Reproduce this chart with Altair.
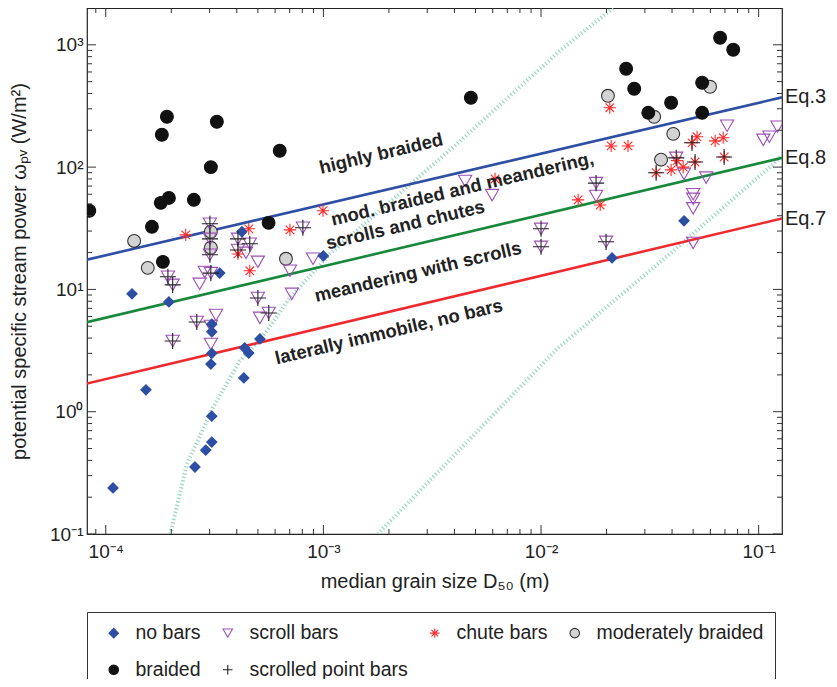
import json
import altair as alt
import pandas as pd

# ---------------- axis ranges and ticks ----------------
X_DOMAIN = [8.2e-5, 0.128]
Y_DOMAIN = [0.1, 2000]
x_major = [1e-4, 1e-3, 1e-2, 1e-1]
x_minor = [9e-5] + [m * 10.0 ** k for k in (-4, -3, -2) for m in range(2, 10)]
y_major = [0.1, 1, 10, 100, 1000]
y_minor = [m * 10.0 ** k for k in (-1, 0, 1, 2) for m in range(2, 10)]
x_tick_labels = ["10⁻⁴", "10⁻³", "10⁻²", "10⁻¹"]
y_tick_labels = ["10⁻¹", "10⁰", "10¹", "10²", "10³"]

# ---------------- observations (D50 [m], omega_pv [W/m2]) ----------------
nobars_D = [1.32e-4, 1.95e-4, 3.34e-4, 4.22e-4, 3.07e-4, 3.07e-4, 3.07e-4, 3.04e-4, 5.11e-4, 4.35e-4,
            4.54e-4, 4.31e-4, 1.53e-4, 3.07e-4, 3.07e-4, 2.88e-4, 2.57e-4, 1.08e-4, 1.00e-3, 0.0212, 0.0454]
nobars_w = [9.2, 7.9, 13.6, 29.6, 5.2, 4.5, 3.0, 2.45, 3.94, 3.32,
            3.02, 1.89, 1.51, 0.92, 0.565, 0.486, 0.353, 0.238, 18.8, 18.1, 36.4]

scroll_D = [3.01e-4, 3.01e-4, 3.01e-4, 3.04e-4, 2.85e-4, 2.70e-4, 1.93e-4, 2.03e-4, 4.05e-4, 4.05e-4,
            4.59e-4, 4.41e-4, 5.00e-4, 8.05e-4, 7.02e-4, 8.96e-4, 5.00e-4, 7.16e-4, 5.61e-4, 5.11e-4,
            3.21e-4, 2.62e-4, 3.04e-4, 2.03e-4, 3.04e-4, 4.48e-3, 5.96e-3, 0.0100, 0.0100, 0.0179,
            0.0179, 0.0199, 0.0418, 0.0454, 0.0574, 0.0500, 0.0500, 0.0500, 0.0500, 0.0716,
            0.105, 0.112, 0.122]
scroll_w = [34.4, 25.9, 19.2, 13.6, 13.9, 11.1, 12.7, 10.9, 25.9, 21.0,
            23.6, 19.9, 16.8, 31.9, 14.2, 17.8, 8.51, 9.19, 6.42, 5.85,
            6.18, 5.42, 5.03, 3.79, 3.58, 77, 59, 31.3, 22.3, 74,
            58, 24.5, 119, 88, 82, 60, 55, 46, 24.0, 218,
            167, 177, 214]

chute_D = [2.33e-4, 4.54e-4, 4.05e-4, 4.59e-4, 7.02e-4, 9.96e-4, 6.15e-3, 0.0207, 0.0210, 0.0251,
           0.0148, 0.0187, 0.0494, 0.0521, 0.0631, 0.0687, 0.0694, 0.0510, 0.0396, 0.0450,
           0.0338, 0.0422]
chute_w = [27.9, 31.3, 19.5, 14.2, 30.7, 44, 80, 306, 149, 149,
           54, 49, 158, 177, 164, 174, 121, 110, 95, 100,
           90, 113]

modbraid_D = [1.35e-4, 1.56e-4, 3.04e-4, 3.04e-4, 6.73e-4, 0.0203, 0.0598, 0.0331, 0.0405, 0.0356]
modbraid_w = [24.9, 15.0, 29.6, 21.9, 17.8, 383, 454, 258, 187, 115]

braided_D = [8.4e-5, 1.91e-4, 1.81e-4, 3.24e-4, 3.04e-4, 6.3e-4, 1.79e-4, 1.95e-4, 2.54e-4, 1.63e-4,
             5.6e-4, 1.83e-4, 4.76e-3, 0.0665, 0.0764, 0.0246, 0.0268, 0.0550, 0.0396, 0.0311, 0.0550]
braided_w = [44, 258, 184, 235, 100, 136, 51, 56, 54, 32.5,
             35, 16.8, 369, 1143, 912, 637, 437, 490, 336, 278, 278]

spb_D = [3.01e-4, 3.01e-4, 3.01e-4, 3.04e-4, 1.93e-4, 2.03e-4, 4.05e-4, 4.05e-4, 4.59e-4, 8.05e-4,
         5.00e-4, 5.61e-4, 2.62e-4, 2.03e-4, 0.0100, 0.0100, 0.0179, 0.0199, 0.0418, 0.0494,
         0.0694, 0.0338, 0.0510]
spb_w = [34.4, 25.9, 19.2, 13.6, 12.7, 10.9, 25.9, 21.0, 23.6, 31.9,
         8.51, 6.42, 5.42, 3.79, 31.3, 22.3, 74, 24.5, 119, 158,
         121, 90, 110]

# ---------------- regime boundaries ----------------
eq_names = ["Eq.3", "Eq.8", "Eq.7"]
eq_D = [8.2e-5, 0.128]
eq3_w = [17.5, 372]
eq8_w = [5.4, 119]
eq7_w = [1.7, 38]
eq_colors = ["#2f4fa4", "#17883c", "#ee2a2e"]

# dotted threshold curves
thrA_D = [1.98e-4, 2.36e-4, 3.10e-4, 4.13e-4, 5.21e-4, 7.01e-4, 1.07e-3, 4.11e-3, 0.0122, 0.0214]
thrA_w = [0.1, 0.373, 1.07, 2.60, 4.01, 8.51, 19.5, 155, 894, 2000]
thrB_D = [1.78e-3, 0.01197, 0.0405, 0.1167, 0.128]
thrB_w = [0.1, 3.32, 20.6, 106, 125]

# regime labels
reg_text = ["highly braided", "mod. braided and meandering,", "scrolls and chutes",
            "meandering with scrolls", "laterally immobile, no bars"]
reg_D = [1.84e-3, 4.35e-3, 2.38e-3, 2.72e-3, 2.00e-3]
reg_w = [129, 66.4, 33.7, 13.9, 4.5]

# ---------------- styling ----------------
W, H = 695, 526
FONT = "Liberation Sans"
categories = ["no bars", "scroll bars", "chute bars", "moderately braided", "braided", "scrolled point bars"]
ASTER = "M0,-1L0,1M-1,0L1,0M-0.7,-0.7L0.7,0.7M-0.7,0.7L0.7,-0.7"
PLUS = "M-1,0L1,0M0,-1L0,1"
shapes = ["diamond", "triangle-down", ASTER, "circle", "circle", PLUS]
fills = ["#2c4ea3", "transparent", "transparent", "#d3d3d3", "#111111", "transparent"]
strokes = ["#2c4ea3", "#9c4fb6", "#ff2a2a", "#333333", "#111111", "#222222"]
marker_px = {"no bars": 105, "scroll bars": 175, "chute bars": 150,
             "moderately braided": 165, "braided": 165, "scrolled point bars": 260}

series = {
    "no bars": (nobars_D, nobars_w),
    "scroll bars": (scroll_D, scroll_w),
    "chute bars": (chute_D, chute_w),
    "moderately braided": (modbraid_D, modbraid_w),
    "braided": (braided_D, braided_w),
    "scrolled point bars": (spb_D, spb_w),
}
draw_order = ["moderately braided", "braided", "scroll bars", "chute bars", "no bars", "scrolled point bars"]
rows = []
for cat in draw_order:
    d, w = series[cat]
    for a, b in zip(d, w):
        rows.append({"D": a, "w": b, "type": cat, "sz": marker_px[cat]})
pts = pd.DataFrame(rows)

xscale = alt.Scale(type="log", domain=X_DOMAIN, nice=False)
yscale = alt.Scale(type="log", domain=Y_DOMAIN, nice=False)

x_expr = json.dumps(x_tick_labels, ensure_ascii=False) + "[round(log(datum.value)/LN10)+4]"
y_expr = json.dumps(y_tick_labels, ensure_ascii=False) + "[round(log(datum.value)/LN10)+1]"

xaxis = alt.Axis(values=x_major, labelExpr=x_expr, title="median grain size D₅₀ (m)",
                 labelFontSize=19, titleFontSize=20, labelPadding=8, titlePadding=10,
                 titleFontWeight="normal")
yaxis = alt.Axis(values=y_major, labelExpr=y_expr, title="potential specific stream power ωₚᵥ (W/m²)",
                 labelFontSize=19, titleFontSize=20, labelPadding=4, titlePadding=20,
                 titleFontWeight="normal")

X = alt.X("D:Q", scale=xscale, axis=xaxis)
Y = alt.Y("w:Q", scale=yscale, axis=yaxis)

leg = alt.Legend(orient="bottom", direction="horizontal", columns=4, offset=21,
                 labelFontSize=19.5, labelFont=FONT, labelColor="#222", labelLimit=400,
                 symbolSize=90, symbolStrokeWidth=1.1, strokeColor="#333", padding=11,
                 rowPadding=16, columnPadding=11, labelOffset=12, symbolOffset=6)

points = alt.Chart(pts).mark_point(opacity=1, strokeWidth=1.1, clip=True).encode(
    x=X, y=Y,
    shape=alt.Shape("type:N", scale=alt.Scale(domain=categories, range=shapes), legend=leg, title=None),
    fill=alt.Fill("type:N", scale=alt.Scale(domain=categories, range=fills), legend=leg, title=None),
    stroke=alt.Stroke("type:N", scale=alt.Scale(domain=categories, range=strokes), legend=leg, title=None),
    size=alt.Size("sz:Q", scale=None),
)

layers = []
# threshold curves
for dd, ww in [(thrA_D, thrA_w), (thrB_D, thrB_w)]:
    layers.append(alt.Chart(pd.DataFrame({"D": dd, "w": ww})).mark_line(
        color="#9ad5c6", strokeWidth=4, strokeDash=[1.2, 2.4], clip=True).encode(x=X, y=Y))
# regime lines
for ww, col in zip([eq3_w, eq8_w, eq7_w], eq_colors):
    layers.append(alt.Chart(pd.DataFrame({"D": eq_D, "w": ww})).mark_line(
        color=col, strokeWidth=2.6, clip=True).encode(x=X, y=Y))
layers.append(points)
# regime labels
layers.append(alt.Chart(pd.DataFrame({"D": reg_D, "w": reg_w, "t": reg_text})).mark_text(
    font=FONT, fontSize=18.5, fontWeight="bold", color="#222", angle=346.7,
    align="center", baseline="middle").encode(x=X, y=Y, text="t:N"))
# Eq labels at right ends of lines
eq_df = pd.DataFrame({"w": [eq3_w[-1], eq8_w[-1], eq7_w[-1]], "t": eq_names})
layers.append(alt.Chart(eq_df).mark_text(font=FONT, fontSize=20, color="#222", align="left",
                                         baseline="middle", dx=3).encode(
    x=alt.value(W), y=Y, text="t:N"))

# inward ticks on all four sides
TC = "#333"
def xt(vals, y0, y1):
    return alt.Chart(pd.DataFrame({"D": vals})).mark_rule(color=TC, strokeWidth=1).encode(
        x=X, y=alt.value(y0), y2=alt.value(y1))
def yt(vals, x0, x1):
    return alt.Chart(pd.DataFrame({"w": vals})).mark_rule(color=TC, strokeWidth=1).encode(
        y=Y, x=alt.value(x0), x2=alt.value(x1))
layers += [xt(x_major, H, H - 9), xt(x_minor, H, H - 5), xt(x_major, 0, 9), xt(x_minor, 0, 5),
           yt(y_major, 0, 9), yt(y_minor, 0, 5), yt(y_major, W, W - 9), yt(y_minor, W, W - 5)]

chart = alt.layer(*layers).properties(
    width=W, height=H,
    padding={"left": 79, "top": 0, "right": 47, "bottom": 145},
    autosize=alt.AutoSizeParams(type="none"),
).configure_view(stroke="#222", strokeWidth=1.2).configure_axis(
    grid=False, domain=False, ticks=False, labelColor="#222", titleColor="#222",
    labelFont=FONT, titleFont=FONT)

chart.save("out.html", embed_options={"renderer": "svg", "actions": False})
